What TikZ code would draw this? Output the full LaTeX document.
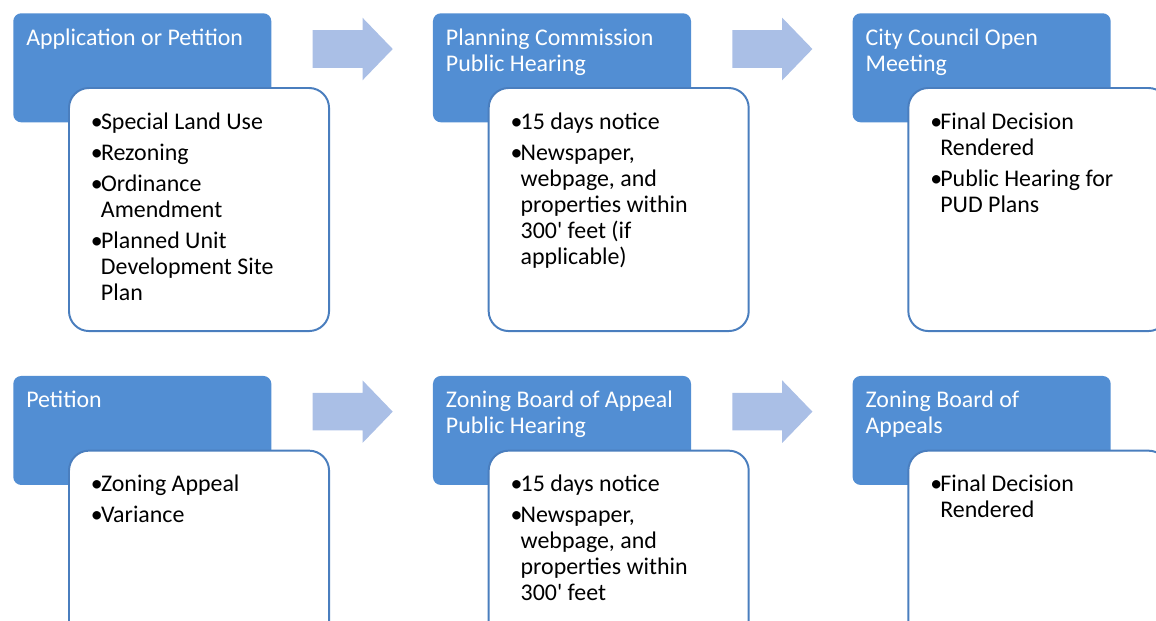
\documentclass[tikz,border=0pt]{standalone}
\usepackage{fontspec}
\setmainfont{Carlito}
\usepackage{tikz}
\usetikzlibrary{shapes.arrows, positioning, calc}

\definecolor{hdrblue}{RGB}{82,142,211}
\definecolor{boxline}{RGB}{74,126,190}
\definecolor{flowblue}{RGB}{170,191,230}

%% header text: fixed-size box, text at the top
\newcommand{\hdrtext}[1]{\parbox[c][2.725cm][t]{5.8cm}{\rightskip=0pt plus 1fil\vspace*{0.345cm}\strut #1}}
%% body text: fixed-size box with bullet items
\newcommand{\bodytext}[1]{\parbox[c][6.075cm][t]{5.4cm}{\rightskip=0pt plus 1fil\vspace*{0.57cm}#1}}
\newcommand{\bitem}[1]{\par\hangindent=0.25cm\hangafter=1\noindent\strut\makebox[0.25cm][l]{\textbullet}#1\par\vspace{0.125cm}}

\tikzset{
  hdr/.style={
    rectangle, rounded corners=0.2cm, fill=hdrblue, draw=none,
    anchor=north west, inner xsep=0.325cm, inner ysep=0pt,
    text=white, font=\fontsize{17}{18.5}\selectfont
  },
  bodybox/.style={
    rectangle, rounded corners=0.5cm, fill=white, draw=boxline,
    line width=1.4pt, anchor=north west, inner xsep=0.55cm, inner ysep=0pt,
    text=black, font=\fontsize{17}{18.5}\selectfont
  },
  flowarrow/.style={
    single arrow, fill=flowblue, draw=none, inner xsep=0pt, inner ysep=0.4625cm,
    minimum height=2cm, minimum width=1.55cm,
    single arrow head extend=0.3125cm, single arrow tip angle=92
  },
}

\begin{document}
\begin{tikzpicture}[x=0.025cm, y=-0.025cm]
    \useasboundingbox (0,0) rectangle (1156,620);
    \clip (0,0) rectangle (1156,620);

    %% Top row: headers
    \node[hdr] (h1) at (13,13) {\hdrtext{Application or Petition}};
    \node[hdr, right=4.025cm of h1] (h2) {\hdrtext{Planning Commission\\Public Hearing}};
    \node[hdr, right=4.025cm of h2] (h3) {\hdrtext{City Council Open\\Meeting}};

    %% Top row: details
    \node[bodybox] (b1) at ($(h1.north west)+(55,74)$) {\bodytext{%
        \bitem{Special Land Use}
        \bitem{Rezoning}
        \bitem{Ordinance\\Amendment}
        \bitem{Planned Unit\\Development Site\\Plan}}};
    \node[bodybox] (b2) at ($(h2.north west)+(55,74)$) {\bodytext{%
        \bitem{15 days notice}
        \bitem{Newspaper,\\webpage, and\\properties within\\300\textquotesingle{} feet (if\\applicable)}}};
    \node[bodybox] (b3) at ($(h3.north west)+(55,74)$) {\bodytext{%
        \bitem{Final Decision\\Rendered}
        \bitem{Public Hearing for\\PUD Plans}}};

    %% Bottom row: headers
    \node[hdr, below=6.325cm of h1] (h4) {\hdrtext{Petition}};
    \node[hdr, right=4.025cm of h4] (h5) {\hdrtext{Zoning Board of Appeal\\Public Hearing}};
    \node[hdr, right=4.025cm of h5] (h6) {\hdrtext{Zoning Board of\\Appeals}};

    %% Bottom row: details
    \node[bodybox] (b4) at ($(h4.north west)+(55,74)$) {\bodytext{%
        \bitem{Zoning Appeal}
        \bitem{Variance}}};
    \node[bodybox] (b5) at ($(h5.north west)+(55,74)$) {\bodytext{%
        \bitem{15 days notice}
        \bitem{Newspaper,\\webpage, and\\properties within\\300\textquotesingle{} feet}}};
    \node[bodybox] (b6) at ($(h6.north west)+(55,74)$) {\bodytext{%
        \bitem{Final Decision\\Rendered}}};

    %% Arrows
    \node[flowarrow] (a1) at ($(h1.north east)!.5!(h2.north west)+(-8.5,36)$) {};
    \node[flowarrow] (a2) at ($(h2.north east)!.5!(h3.north west)+(-8.5,36)$) {};
    \node[flowarrow] (a3) at ($(h4.north east)!.5!(h5.north west)+(-8.5,36)$) {};
    \node[flowarrow] (a4) at ($(h5.north east)!.5!(h6.north west)+(-8.5,36)$) {};

\end{tikzpicture}
\end{document}
